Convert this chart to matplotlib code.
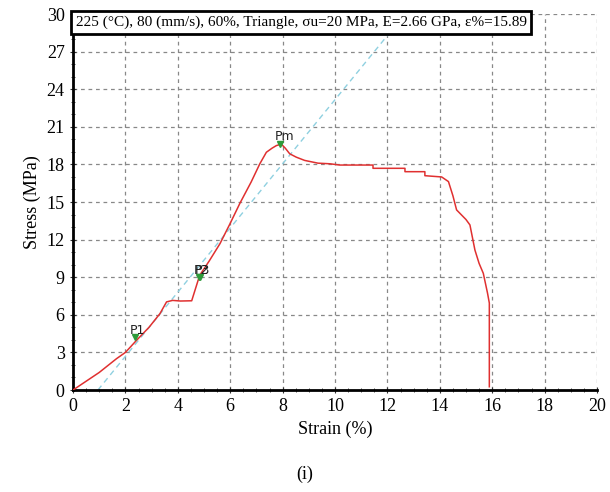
import matplotlib.pyplot as plt
from matplotlib.ticker import MultipleLocator

# datos
strain = [0.0, 0.5, 1.0, 1.66, 2.0, 2.44, 2.9, 3.32, 3.57, 3.8, 4.1, 4.53, 4.78, 4.85,
          5.2, 5.61, 6.0, 6.37, 6.8, 7.13, 7.38, 7.6, 7.76, 7.95, 8.1, 8.27, 8.52, 8.84,
          9.35, 9.81, 10.18, 11.0, 11.45, 11.45, 12.67, 12.67, 13.43, 13.43, 14.07,
          14.33, 14.5, 14.64, 15.0, 15.15, 15.34, 15.5, 15.66, 15.82, 15.89, 15.89]
stress = [0.0, 0.7, 1.4, 2.5, 3.0, 4.0, 5.0, 6.1, 7.03, 7.15, 7.1, 7.12, 8.79, 9.2,
          10.3, 11.68, 13.3, 14.9, 16.6, 18.05, 18.97, 19.3, 19.5, 19.62, 19.3, 18.85, 18.58, 18.32,
          18.1, 18.05, 17.95, 17.95, 17.95, 17.69, 17.69, 17.42, 17.42, 17.1, 17.0,
          16.63, 15.5, 14.37, 13.6, 13.17, 11.17, 10.1, 9.31, 7.74, 6.94, 0.26]

fit_x = [0.95, 12.67]
fit_y = [0.0, 30.0]

puntos = ['P1', 'P2', 'P3', 'Pm']
puntos_x = [2.35, 4.8, 4.85, 7.9]
puntos_y = [4.2, 9.0, 9.0, 19.62]

titulo = '225 (°C), 80 (mm/s), 60%, Triangle, σu=20 MPa, E=2.66 GPa, ε%=15.89'

plt.rcParams['font.family'] = ['Liberation Serif', 'DejaVu Serif']

fig = plt.figure(figsize=(6.1, 4.92), dpi=100)
ax = fig.add_axes([0.1197, 0.2073, 0.859, 0.7642])

ax.plot(fit_x, fit_y, color='#8fd0e0', lw=1, ls=(0, (4, 3)), zorder=2)
ax.plot(strain, stress, color='#e03030', lw=1.1, zorder=3)

ax.plot(puntos_x, puntos_y, 'v', color='#2e9a3a', ms=5, zorder=4)
for p, x, y in zip(puntos, puntos_x, puntos_y):
    ax.text(x - 0.2, y + 0.05, p, fontsize=9, family='DejaVu Sans', color='#222222',
            ha='left', va='bottom', zorder=5)

ax.set_xlim(0, 20)
ax.set_ylim(0, 30)
ax.xaxis.set_major_locator(MultipleLocator(2))
ax.xaxis.set_minor_locator(MultipleLocator(0.5))
ax.yaxis.set_major_locator(MultipleLocator(3))
ax.yaxis.set_minor_locator(MultipleLocator(1))
ax.grid(True, color='#888888', ls=(0, (3, 3)), lw=0.9)
ax.tick_params(which='both', direction='inout', labelsize=13, color='#333333')
ax.tick_params(which='major', length=5)
ax.tick_params(which='minor', length=3)

for s in ['top', 'right']:
    ax.spines[s].set_visible(False)
for s in ['left', 'bottom']:
    ax.spines[s].set_linewidth(2)

ax.set_xlabel('Strain (%)', fontsize=13)
ax.set_ylabel('Stress (MPa)', fontsize=13)

ax.text(0.005, 0.995, titulo, transform=ax.transAxes, fontsize=11, ha='left', va='top',
        zorder=6, bbox=dict(boxstyle='square,pad=0.3', fc='white', ec='black', lw=2))

fig.text(0.5, 0.035, '(i)', fontsize=13, ha='center', va='center')

plt.savefig('out.png', dpi=100)
